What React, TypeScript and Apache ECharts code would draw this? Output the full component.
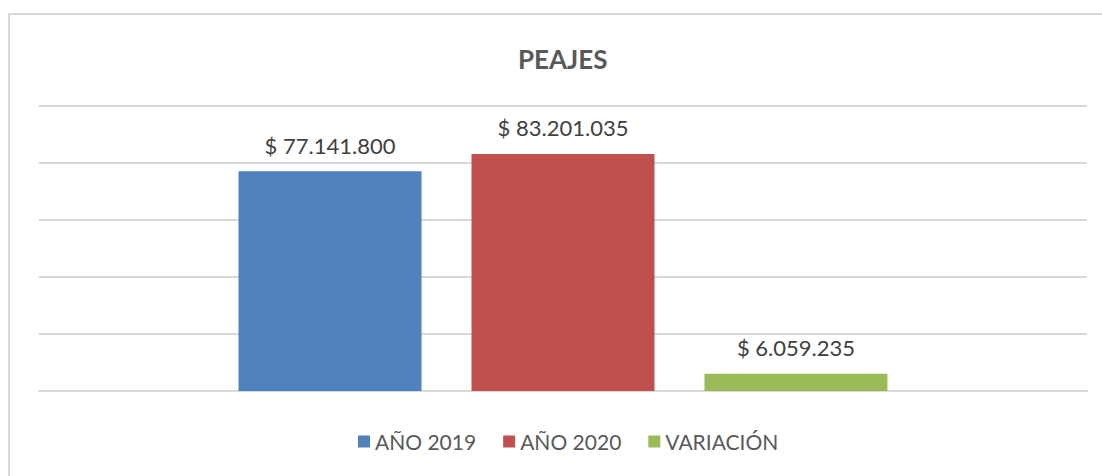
import React, { useEffect, useRef } from "react";
import * as echarts from "echarts";

const categories = ["PEAJES"];
const seriesNames = ["AÑO 2019", "AÑO 2020", "VARIACIÓN"];
const seriesValues = [77141800, 83201035, 6059235];
const seriesColors = ["#4F81BD", "#C0504D", "#9BBB59"];

const fmt = (v: number) =>
  "$ " + String(Math.round(v)).replace(/\B(?=(\d{3})+(?!\d))/g, ".");

export default function App() {
  const ref = useRef<HTMLDivElement>(null);
  useEffect(() => {
    document.body.style.margin = "0";
    const chart = echarts.init(ref.current!, null, { renderer: "svg" });
    const font = "Lato, 'Open Sans', sans-serif";
    chart.setOption({
      animation: false,
      backgroundColor: "#ffffff",
      textStyle: { fontFamily: font },
      title: {
        text: "PEAJES",
        left: 513,
        top: 41,
        textStyle: { fontFamily: font, fontSize: 26, fontWeight: "bold", color: "#595959" },
      },
      graphic: [
        {
          type: "rect",
          shape: { x: 9, y: 14, width: 1200, height: 600 },
          style: { fill: "none", stroke: "#D9D9D9", lineWidth: 2 },
          silent: true,
        },
      ],
      legend: {
        bottom: 19,
        left: 353,
        itemWidth: 12,
        itemHeight: 12,
        itemGap: 27,
        icon: "rect",
        textStyle: { fontFamily: font, fontSize: 21, color: "#595959" },
        data: seriesNames,
      },
      grid: { left: 39, right: 15, top: 106, bottom: 85, containLabel: false },
      xAxis: {
        type: "category",
        data: categories,
        axisLine: { show: true, lineStyle: { color: "#D9D9D9", width: 2 } },
        axisTick: { show: false },
        axisLabel: { show: false },
      },
      yAxis: {
        type: "value",
        min: 0,
        max: 100000000,
        interval: 20000000,
        axisLine: { show: false },
        axisTick: { show: false },
        axisLabel: { show: false },
        splitLine: { lineStyle: { color: "#D9D9D9", width: 2 } },
      },
      series: seriesNames.map((name, i) => ({
        name,
        type: "bar",
        data: [seriesValues[i]],
        barWidth: 183,
        barGap: "27.3%",
        itemStyle: { color: seriesColors[i] },
        label: {
          show: true,
          position: "top",
          distance: 15,
          formatter: (p: any) => fmt(p.value),
          fontFamily: font,
          fontSize: 22,
          color: "#404040",
        },
      })),
    });
    return () => chart.dispose();
  }, []);
  return <div ref={ref} style={{ width: 1102, height: 476 }} />;
}
